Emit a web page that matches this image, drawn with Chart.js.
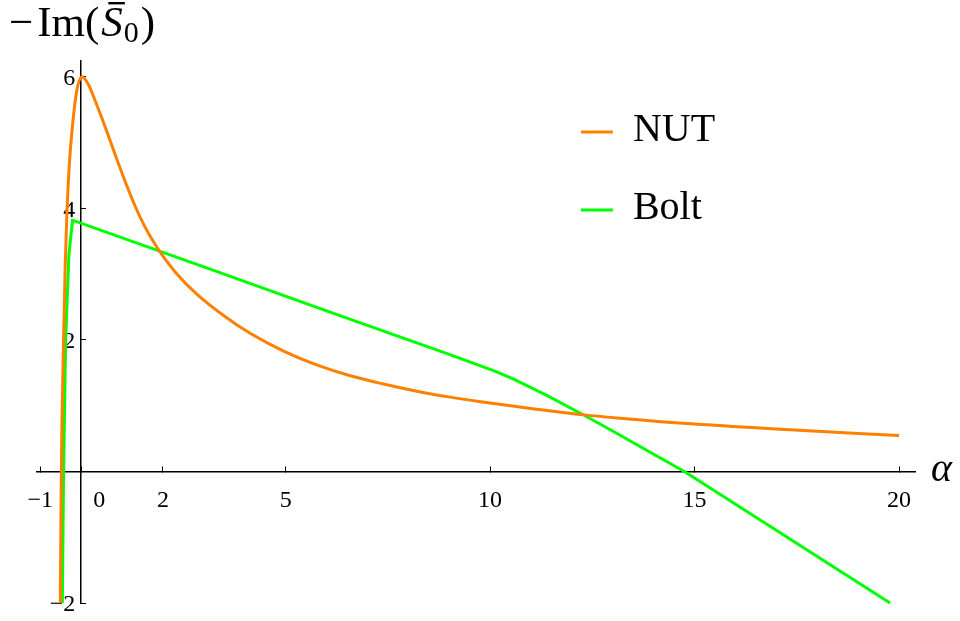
<!DOCTYPE html>
<html>
<head>
<meta charset="utf-8">
<script src="https://cdn.jsdelivr.net/npm/chart.js@4.4.0/dist/chart.umd.min.js"></script>
<style>
  html, body { margin: 0; padding: 0; background: #fff; }
  #wrap { position: relative; width: 960px; height: 621px; }
</style>
</head>
<body>
<div id="wrap"><canvas id="chart"></canvas></div>
<script>
// values (alpha on x, -Im(S0) on y)
const nutX = [-0.51, -0.485, -0.43, -0.39, -0.35, -0.29, -0.21, -0.11, 0.02, 0.18, 0.34, 0.58, 0.87, 1.15, 1.35, 1.55, 1.75, 1.97, 2.33, 2.82, 3.55, 4.13, 4.95, 5.76, 6.58, 7.39, 8.21, 9.02, 9.77, 10.73, 12.31, 13.18, 15.0, 17.0, 20.0];
const nutY = [-2, 0, 2, 3.14, 3.9, 4.66, 5.27, 5.78, 6.0, 5.88, 5.64, 5.25, 4.75, 4.29, 3.99, 3.73, 3.51, 3.30, 3.01, 2.70, 2.34, 2.10, 1.83, 1.62, 1.455, 1.33, 1.22, 1.13, 1.06, 0.98, 0.86, 0.81, 0.72, 0.645, 0.545];
const boltX = [-0.46, -0.43, -0.38, -0.30, -0.21, 3, 6, 9, 10.1, 10.59, 11.41, 12.31, 13.04, 13.86, 14.75, 19.78];
const boltY = [-2, 0, 2, 3.3, 3.82, 3.11, 2.44, 1.78, 1.53, 1.40, 1.15, 0.85, 0.60, 0.31, 0, -2];
const seriesNames = ["NUT", "Bolt"];
const seriesColors = ["#ff8000", "#00ff00"];
const xTicks = [-1, 0, 2, 5, 10, 15, 20];
const yTicks = [-2, 2, 4, 6];
const xRange = [-1.08, 20.39];
const yRange = [-2, 6.24];

const serif = "'Liberation Serif', 'DejaVu Serif', serif";

function toPoints(xs, ys) {
    return xs.map((x, i) => ({ x: x, y: ys[i] }));
}

function xTickText(v) {
    if (v < 0) return "\u2212" + Math.abs(v);
    // mathematica pushes the 0 label off the vertical axis
    if (v === 0) return "\u2003\u20020";
    return String(v);
}

function yTickText(v) {
    // trailing space keeps the label off the axis line
    return (v < 0 ? "\u2212" + Math.abs(v) : String(v)) + "\u2005";
}

// axis titles and the legend, drawn on the canvas
const decorPlugin = {
    id: "decor",
    afterDraw(chart) {
        const ctx = chart.ctx;
        const xs = chart.scales.x;
        const ys = chart.scales.y;
        ctx.save();
        ctx.fillStyle = "#000";
        ctx.textBaseline = "alphabetic";

        // x axis title
        ctx.font = "italic 40px " + serif;
        ctx.textAlign = "left";
        ctx.fillText("\u03b1", xs.right + 16, ys.getPixelForValue(0) + 10);

        // y axis title  -Im(S0) with a bar over S
        let x = 9;
        const base = 36;
        ctx.font = "43px " + serif;
        ctx.fillText("\u2212", x, base);
        x += ctx.measureText("\u2212").width + 4;
        ctx.fillText("Im(", x, base);
        x += ctx.measureText("Im(").width + 2;
        ctx.font = "italic 43px " + serif;
        const sw = ctx.measureText("S").width;
        ctx.fillText("S", x, base);
        ctx.fillRect(x + 7, 2, sw - 5, 2.4);
        x += sw + 1;
        ctx.font = "30px " + serif;
        ctx.fillText("0", x, base + 6);
        x += ctx.measureText("0").width + 2;
        ctx.font = "43px " + serif;
        ctx.fillText(")", x, base);

        // legend
        const lx = xs.getPixelForValue(12.22);
        let ly = ys.getPixelForValue(5.16);
        ctx.font = "40px " + serif;
        seriesNames.forEach((name, i) => {
            ctx.strokeStyle = seriesColors[i];
            ctx.lineWidth = 3;
            ctx.beginPath();
            ctx.moveTo(lx, ly);
            ctx.lineTo(lx + 32, ly);
            ctx.stroke();
            ctx.fillText(name, lx + 52, ly + 9);
            ly += 78;
        });
        ctx.restore();
    }
};

const axisBorder = { display: true, color: "#000", width: 1.5 };
const axisGrid = { drawOnChartArea: false, drawTicks: true, tickLength: -6, color: "#000", lineWidth: 1 };
const tickFont = { family: serif, size: 24 };

const ctx = document.getElementById("chart");
const myChart = new Chart(ctx, {
    type: "scatter",
    data: {
        datasets: [
            {
                label: seriesNames[0],
                data: toPoints(nutX, nutY),
                borderColor: seriesColors[0],
                cubicInterpolationMode: "monotone"
            },
            {
                // bolt has sharp corners, keep it straight between samples
                label: seriesNames[1],
                data: toPoints(boltX, boltY),
                borderColor: seriesColors[1],
                tension: 0
            }
        ]
    },
    options: {
        responsive: true,
        maintainAspectRatio: false,
        animation: false,
        showLine: true,
        clip: false,
        layout: { padding: { left: 37, right: 45, top: 61, bottom: 18 } },
        elements: {
            point: { radius: 0, hoverRadius: 0 },
            line: { borderWidth: 3, fill: false }
        },
        plugins: {
            legend: { display: false },
            tooltip: { enabled: false }
        },
        scales: {
            x: {
                type: "linear",
                position: { y: 0 },
                min: xRange[0],
                max: xRange[1],
                border: axisBorder,
                grid: axisGrid,
                afterBuildTicks: (scale) => {
                    scale.ticks = xTicks.map((v) => ({ value: v }));
                },
                ticks: {
                    padding: 21,
                    maxRotation: 0,
                    autoSkip: false,
                    color: "#000",
                    font: tickFont,
                    callback: (v) => xTickText(v)
                }
            },
            y: {
                type: "linear",
                position: { x: 0 },
                min: yRange[0],
                max: yRange[1],
                border: axisBorder,
                grid: axisGrid,
                afterBuildTicks: (scale) => {
                    scale.ticks = yTicks.map((v) => ({ value: v }));
                },
                ticks: {
                    padding: 0,
                    labelOffset: 2,
                    autoSkip: false,
                    color: "#000",
                    font: tickFont,
                    callback: (v) => yTickText(v)
                }
            }
        }
    },
    plugins: [decorPlugin]
});
</script>
</body>
</html>
